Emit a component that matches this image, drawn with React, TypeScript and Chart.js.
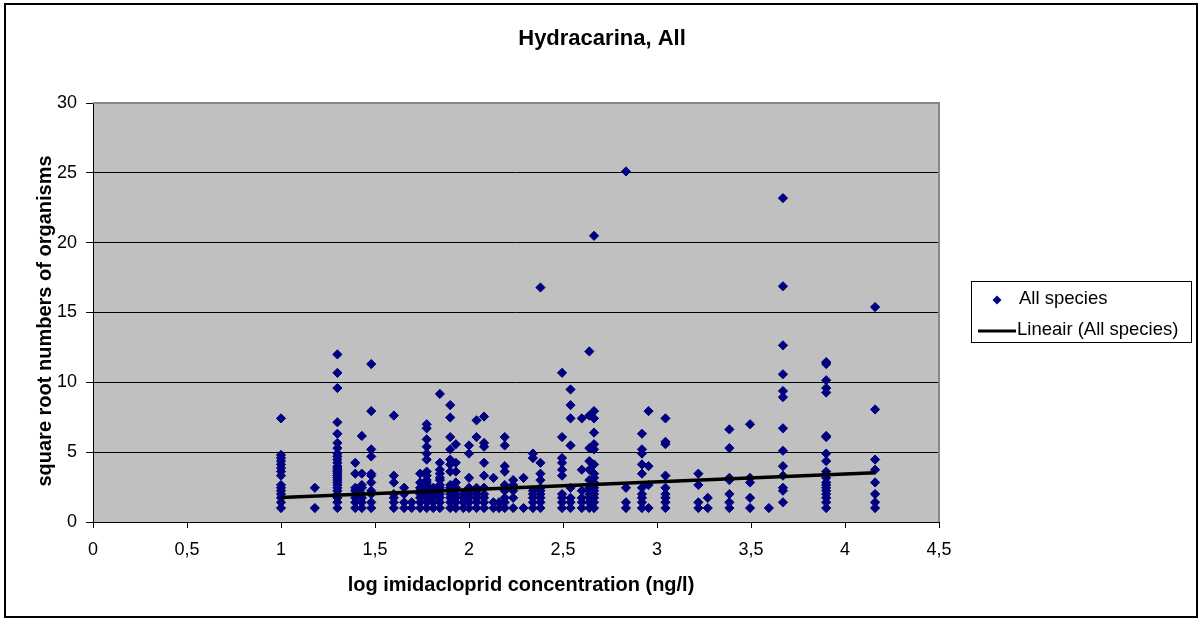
import React, { useEffect, useRef } from "react";
import { Chart, registerables } from "chart.js";

Chart.register(...registerables);

const chartTitle = "Hydracarina, All";
const xAxisTitle = "log imidacloprid concentration (ng/l)";
const yAxisTitle = "square root numbers of organisms";
const seriesName = "All species";
const trendName = "Lineair (All species)";

const xTicks = [0, 0.5, 1, 1.5, 2, 2.5, 3, 3.5, 4, 4.5];
const yTicks = [0, 5, 10, 15, 20, 25, 30];

// log imidacloprid concentration of each sampling column
const concentrations = [
  1.0, 1.18, 1.3, 1.395, 1.43, 1.48, 1.6, 1.655, 1.695, 1.74, 1.775, 1.81, 1.845, 1.9, 1.93, 1.97,
  2.0, 2.04, 2.08, 2.13, 2.16, 2.19, 2.235, 2.29, 2.34, 2.38, 2.495, 2.54, 2.6, 2.64, 2.665, 2.835,
  2.92, 2.955, 3.045, 3.22, 3.27, 3.385, 3.495, 3.595, 3.67, 3.9, 4.16,
];

// square root numbers of organisms observed at each concentration
const sqrtCounts = [
  [7.42, 4.8, 4.58, 4.36, 4.12, 3.87, 3.61, 3.32, 2.65, 2.45, 2.24, 2, 1.73, 1.41, 1],
  [2.45, 1],
  [12, 10.68, 9.59, 7.14, 6.32, 5.66, 5.29, 4.9, 4.69, 4.47, 4.24, 4, 3.87, 3.74, 3.61, 3.46, 3.32, 3.16, 3, 2.83, 2.65, 2.45, 2.24, 2, 1.73, 1.41, 1],
  [4.24, 3.46, 2.45, 2.24, 2, 1.73, 1.41, 1],
  [6.16, 3.46, 2.65, 2.45, 2, 1.73, 1.41, 1],
  [11.31, 7.94, 5.2, 4.69, 3.46, 3.32, 2.83, 2.24, 2, 1.41, 1],
  [7.62, 3.32, 2.83, 2, 1.73, 1.41, 1],
  [2.45, 2, 1.41, 1],
  [1.41, 1],
  [3.46, 2.83, 2.45, 2.24, 2, 1.73, 1.41, 1],
  [7, 6.71, 5.92, 5.39, 4.9, 4.47, 3.61, 3.32, 3, 2.83, 2.65, 2.45, 2.24, 2, 1.73, 1.41, 1],
  [2.45, 2, 1.73, 1.41, 1],
  [9.17, 4.24, 3.74, 3.46, 3.16, 3, 2.65, 2.45, 2.24, 2, 1.73, 1.41, 1],
  [8.37, 7.48, 6.08, 5.2, 4.47, 4.12, 3.61, 2.65, 2.45, 2.24, 2, 1.73, 1.41, 1],
  [5.57, 4.24, 3.61, 2.83, 2.45, 2, 1.73, 1.41, 1],
  [2, 1.73, 1.41, 1],
  [5.48, 4.9, 3.16, 2.45, 2.24, 2, 1.73, 1.41, 1],
  [7.28, 6.08, 2.45, 2.24, 2, 1.73, 1.41, 1],
  [7.55, 5.66, 5.39, 4.24, 3.32, 2.45, 2, 1.73, 1.41, 1],
  [3.16, 1.41, 1],
  [1.41, 1],
  [6.08, 5.48, 4, 3.61, 2.65, 2.24, 1.73, 1.41, 1],
  [3, 2.65, 2.24, 1.73, 1],
  [3.16, 1],
  [4.9, 4.58, 2.24, 2, 1.73, 1.41, 1],
  [16.79, 4.24, 3.46, 3, 2.45, 2.24, 2, 1.73, 1.41, 1],
  [10.68, 6.08, 4.58, 4.24, 3.74, 3.32, 2, 1.73, 1.41, 1],
  [9.49, 8.37, 7.42, 5.48, 2.45, 1.73, 1.41, 1],
  [7.42, 3.74, 2.24, 1.73, 1.41, 1],
  [12.21, 7.62, 5.29, 4.36, 3.74, 3, 2.45, 2.24, 2, 1.73, 1.41, 1],
  [20.49, 7.94, 7.42, 6.4, 5.57, 5.2, 4.12, 3.46, 3.16, 2.83, 2.45, 2.24, 2, 1.73, 1.41, 1],
  [25.1, 2.45, 1.41, 1],
  [6.32, 5.2, 4.9, 4.12, 3.46, 2.45, 2, 1.73, 1.41, 1],
  [7.94, 4, 2.65, 1],
  [7.42, 5.74, 5.57, 3.32, 2.45, 2, 1.73, 1.41, 1],
  [3.46, 2.65, 1.41, 1],
  [1.73, 1],
  [6.63, 5.29, 3.16, 3, 2, 1.41, 1],
  [7, 3.16, 2.83, 1.73, 1],
  [1],
  [23.19, 16.88, 12.65, 10.58, 9.38, 8.94, 6.71, 5.1, 4, 3.32, 2.45, 2.24, 1.41],
  [11.45, 11.31, 10.15, 9.59, 9.27, 6.16, 6.08, 4.9, 4.36, 3.61, 3.16, 2.83, 2.65, 2.45, 2.24, 2, 1.73, 1.41, 1],
  [15.39, 8.06, 4.47, 3.74, 2.83, 2, 1.41, 1],
];

// linear trend line end points
const trendX = [1.0, 4.16];
const trendY = [1.76, 3.52];

const FONT = "'Liberation Sans', Arial, Helvetica, sans-serif";
const MARKER = "#000080";

const decorPlugin = {
  id: "decor",
  beforeDraw(chart: any) {
    const { ctx, chartArea: a } = chart;
    ctx.save();
    ctx.fillStyle = "#ffffff";
    ctx.fillRect(0, 0, chart.width, chart.height);
    ctx.fillStyle = "#C0C0C0";
    ctx.fillRect(a.left, a.top, a.right - a.left, a.bottom - a.top);
    ctx.restore();
  },
  afterDraw(chart: any) {
    const { ctx, chartArea: a } = chart;
    ctx.save();
    // plot area top/right edges
    ctx.strokeStyle = "#878787";
    ctx.lineWidth = 2;
    ctx.beginPath();
    ctx.moveTo(a.left, a.top);
    ctx.lineTo(a.right, a.top);
    ctx.lineTo(a.right, a.bottom);
    ctx.stroke();

    // outer frame
    ctx.strokeStyle = "#000000";
    ctx.lineWidth = 2;
    ctx.strokeRect(5, 4, 1192, 613);

    // title
    ctx.fillStyle = "#000";
    ctx.textAlign = "center";
    ctx.textBaseline = "middle";
    ctx.font = `bold 22px ${FONT}`;
    ctx.fillText(chartTitle, 602, 39);

    // axis titles
    ctx.font = `bold 20px ${FONT}`;
    ctx.fillText(xAxisTitle, 521, 585);
    ctx.save();
    ctx.translate(45, 321);
    ctx.rotate(-Math.PI / 2);
    ctx.fillText(yAxisTitle, 0, 0);
    ctx.restore();

    // legend
    ctx.lineWidth = 1;
    ctx.strokeStyle = "#000";
    ctx.strokeRect(971.5, 281.5, 220, 61);
    ctx.fillStyle = MARKER;
    ctx.beginPath();
    ctx.moveTo(997 - 4.5, 300);
    ctx.lineTo(997, 300 - 4.5);
    ctx.lineTo(997 + 4.5, 300);
    ctx.lineTo(997, 300 + 4.5);
    ctx.closePath();
    ctx.fill();
    ctx.strokeStyle = "#000";
    ctx.lineWidth = 3;
    ctx.beginPath();
    ctx.moveTo(978, 331);
    ctx.lineTo(1016, 331);
    ctx.stroke();
    ctx.fillStyle = "#000";
    ctx.textAlign = "left";
    ctx.font = `18.5px ${FONT}`;
    ctx.fillText(seriesName, 1019, 299);
    ctx.fillText(trendName, 1017, 330);
    ctx.restore();
  },
};

export default function App() {
  const ref = useRef<HTMLCanvasElement | null>(null);

  useEffect(() => {
    if (!ref.current) return;
    Chart.defaults.font.family = FONT;
    const points = concentrations.flatMap((c, i) => sqrtCounts[i].map((v) => ({ x: c, y: v })));
    const trend = trendX.map((x, i) => ({ x, y: trendY[i] }));

    const chart = new Chart(ref.current, {
      type: "scatter",
      data: {
        datasets: [
          {
            type: "line",
            label: trendName,
            data: trend,
            borderColor: "#000",
            borderWidth: 3.5,
            pointRadius: 0,
            fill: false,
            order: 0,
          } as any,
          {
            label: seriesName,
            data: points,
            pointStyle: "rectRot",
            pointRadius: 4.6,
            borderWidth: 1,
            backgroundColor: MARKER,
            borderColor: MARKER,
            order: 1,
          },
        ],
      },
      options: {
        animation: false,
        responsive: false,
        devicePixelRatio: 1,
        layout: { padding: { top: 103, right: 259, left: 0, bottom: 0 } },
        plugins: {
          legend: { display: false },
          title: { display: false },
          tooltip: { enabled: false },
        },
        scales: {
          x: {
            type: "linear",
            min: 0,
            max: 4.5,
            afterBuildTicks: (s: any) => {
              s.ticks = xTicks.map((v) => ({ value: v }));
            },
            afterFit: (s: any) => {
              s.height = 97;
            },
            grid: { drawOnChartArea: false, drawTicks: true, tickLength: 6, color: "#000" },
            border: { color: "#000", width: 1 },
            ticks: {
              padding: 11,
              color: "#000",
              font: { size: 18, family: FONT },
              callback: (v: any) => String(v).replace(".", ","),
              maxRotation: 0,
            },
          },
          y: {
            type: "linear",
            min: 0,
            max: 30,
            afterBuildTicks: (s: any) => {
              s.ticks = yTicks.map((v) => ({ value: v }));
            },
            afterFit: (s: any) => {
              s.width = 93;
            },
            grid: { drawOnChartArea: true, drawTicks: true, tickLength: 7, color: "#000" },
            border: { color: "#000", width: 1 },
            ticks: {
              padding: 9,
              color: "#000",
              font: { size: 18, family: FONT },
              callback: (v: any) => String(v),
            },
          },
        },
      },
      plugins: [decorPlugin],
    });
    return () => chart.destroy();
  }, []);

  return (
    <div style={{ position: "absolute", left: 0, top: 0, width: 1198, height: 619, background: "#fff" }}>
      <canvas ref={ref} width={1198} height={619} style={{ display: "block" }} />
    </div>
  );
}
